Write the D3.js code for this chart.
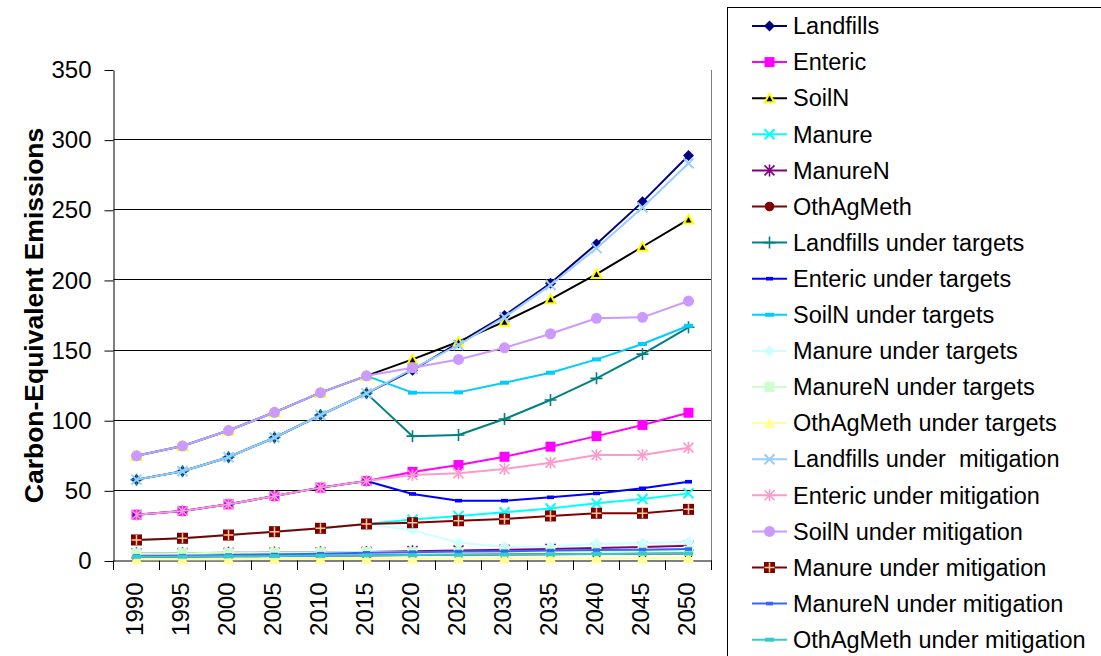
<!DOCTYPE html>
<html><head><meta charset="utf-8">
<script src="https://cdn.jsdelivr.net/npm/d3@7"></script>
<style>
html,body{margin:0;padding:0;background:#fff;}
svg{display:block;font-family:Arial,"Liberation Sans",sans-serif;}
</style></head>
<body>
<svg id="chart" width="1101" height="656"></svg>
<script>
// ---- data ----
const years = ["1990","1995","2000","2005","2010","2015","2020","2025","2030","2035","2040","2045","2050"];
const yTicks = [0,50,100,150,200,250,300,350];

const landfills        = [58, 64, 74, 88, 104, 119.5, 136, 155.5, 175, 198, 226, 256, 289];
const enteric          = [33, 35.6, 40.4, 46.3, 52.3, 57, 63.5, 68.4, 74.3, 81.5, 89, 97, 105.7];
const soilN            = [75, 82, 93, 106, 120, 132, 143.7, 156.3, 170.6, 186.5, 204.5, 224, 243.5];
const manure           = [15, 16.2, 18.5, 20.9, 23.3, 26.4, 29.5, 32.1, 34.7, 37.5, 41.1, 44.2, 48.2];
const manureN          = [5.5, 5.6, 5.8, 6.0, 6.2, 6.5, 7.0, 7.5, 8.0, 8.6, 9.3, 10.0, 10.8];
const othAgMeth        = [3.0, 3.1, 3.3, 3.5, 3.7, 4.0, 4.2, 4.4, 4.6, 4.8, 5.0, 5.2, 5.4];
const landfillsTargets = [58, 64, 74, 88, 104, 119.5, 89, 89.8, 101.2, 114.8, 130.2, 147.5, 166.6];
const entericTargets   = [33, 35.6, 40.4, 46.3, 52.3, 57, 47.8, 43, 43, 45.4, 48.2, 51.8, 56.5];
const soilNTargets     = [75, 82, 93, 106, 120, 132, 120, 120.2, 127.1, 134.2, 143.7, 154.7, 167.7];
const manureTargets    = [15, 16.2, 18.5, 20.9, 23.3, 26.4, 22, 13, 10.2, 10.4, 12.1, 12.6, 13.8];
const manureNTargets   = [5.5, 5.6, 5.8, 6.0, 6.2, 6.5, 6.3, 6.3, 6.5, 6.7, 6.9, 7.1, 7.3];
const othAgMethTargets = [1.2, 1.2, 1.3, 1.4, 1.5, 1.6, 1.7, 1.7, 1.8, 1.9, 2.0, 2.0, 2.1];
const landfillsMitig   = [58, 64, 74, 88, 104, 119.5, 137, 154, 173.8, 196.7, 223, 252, 283.5];
const entericMitig     = [33, 35.6, 40.4, 46.3, 52.3, 57, 61.3, 62.5, 65.6, 70.1, 75.6, 75.6, 80.8];
const soilNMitig       = [75, 82, 93, 106, 120, 132, 137.8, 143.7, 152, 162, 173, 173.7, 185.3];
const manureMitig      = [15, 16.2, 18.5, 20.9, 23.3, 26.4, 27.3, 28.7, 29.9, 32.1, 34, 34, 36.8];
const manureNMitig     = [3.6, 3.8, 4.2, 4.6, 5.2, 5.8, 6.3, 6.7, 7.0, 7.4, 7.8, 8.1, 8.5];
const othAgMethMitig   = [3.0, 3.1, 3.3, 3.5, 3.7, 4.0, 4.2, 4.4, 4.6, 4.8, 5.0, 5.2, 5.4];

const seriesNames = ["Landfills","Enteric","SoilN","Manure","ManureN","OthAgMeth",
  "Landfills under targets","Enteric under targets","SoilN under targets","Manure under targets",
  "ManureN under targets","OthAgMeth under targets","Landfills under  mitigation","Enteric under mitigation",
  "SoilN under mitigation","Manure under mitigation","ManureN under mitigation","OthAgMeth under mitigation"];
const seriesValues = [landfills, enteric, soilN, manure, manureN, othAgMeth,
  landfillsTargets, entericTargets, soilNTargets, manureTargets, manureNTargets, othAgMethTargets,
  landfillsMitig, entericMitig, soilNMitig, manureMitig, manureNMitig, othAgMethMitig];

// ---- styles ----
const seriesColors = ["#000080","#FF00FF","#000000","#00FFFF","#800080","#800000",
  "#008080","#0000FF","#00CCFF","#CCFFFF","#CCFFCC","#FFFF99",
  "#99CCFF","#FF99CC","#CC99FF","#800000","#3366FF","#33CCCC"];
const seriesMarkers = ["diamond","square","triangle","x","asterisk","circle",
  "plus","dashS","dash","diamond","square","triangleP",
  "x","asterisk","circleL","sqplus","dashS","dash"];

(function () {
const svg = d3.select("#chart");
const pLeft = 113.5, pRight = 711.5, pTop = 70, pBottom = 561;
const x = d3.scaleBand().domain(years).range([pLeft, pRight]).padding(0);
const y = d3.scaleLinear().domain([0, 350]).range([pBottom, pTop]);
const cx = d => x(d) + x.bandwidth() / 2;
const crisp = v => Math.round(v) + 0.5;

// gridlines
svg.append("g").selectAll("line").data(yTicks.filter(t => t > 0 && t < 350)).join("line")
  .attr("x1", pLeft).attr("x2", pRight)
  .attr("y1", d => crisp(y(d)) - 1).attr("y2", d => crisp(y(d)) - 1)
  .attr("stroke", "#000").attr("stroke-width", 1);

// right border of plot area
svg.append("line").attr("x1", pRight).attr("x2", pRight).attr("y1", pTop).attr("y2", pBottom)
  .attr("stroke", "#808080").attr("stroke-width", 1);

// y axis
const yAxis = svg.append("g").attr("transform", `translate(${pLeft},0)`)
  .call(d3.axisLeft(y).tickValues(yTicks).tickSize(9).tickPadding(13).tickSizeOuter(0));
yAxis.select(".domain").attr("stroke", "#000");
yAxis.selectAll(".tick line").attr("stroke", "#000");
yAxis.selectAll("text").attr("font-size", 24).attr("fill", "#000")
  .attr("font-family", "Arial, 'Liberation Sans', sans-serif");

// x axis
const xAxis = svg.append("g").attr("transform", `translate(0,${pBottom - 0.5})`)
  .call(d3.axisBottom(x).tickSize(0).tickSizeOuter(0));
xAxis.select(".domain").attr("stroke", "#000");
xAxis.selectAll("text").attr("font-size", 24).attr("fill", "#000")
  .attr("font-family", "Arial, 'Liberation Sans', sans-serif")
  .attr("x", 0).attr("y", 0).attr("dy", "0.35em")
  .attr("text-anchor", "end")
  .attr("transform", "translate(-1.5,22) rotate(-90)");
// boundary ticks
const bounds = d3.range(years.length + 1).map(i => pLeft + i * x.step());
svg.append("g").selectAll("line").data(bounds).join("line")
  .attr("x1", d => d).attr("x2", d => d).attr("y1", pBottom - 0.5).attr("y2", pBottom + 9)
  .attr("stroke", "#000");

// y axis title
svg.append("text").attr("transform", `translate(43,315.5) rotate(-90)`)
  .attr("text-anchor", "middle").attr("font-size", 26.5).attr("font-weight", "bold")
  .text("Carbon-Equivalent Emissions");

// marker drawing
function drawMarker(g, type, color) {
  switch (type) {
    case "diamond":
      g.append("path").attr("d", "M0,-5.5L5.5,0L0,5.5L-5.5,0Z").attr("fill", color); break;
    case "square":
      g.append("rect").attr("x", -5).attr("y", -5).attr("width", 10).attr("height", 10).attr("fill", color); break;
    case "triangle":
      g.append("path").attr("d", "M0,-6.5L6.5,5L-6.5,5Z").attr("fill", "#FFFF00");
      g.append("path").attr("d", "M0,-2.5L3,3L-3,3Z").attr("fill", "#000"); break;
    case "triangleP":
      g.append("path").attr("d", "M0,-6L6,5L-6,5Z").attr("fill", color); break;
    case "x":
      g.append("path").attr("d", "M-5,-5L5,5M5,-5L-5,5").attr("stroke", color).attr("stroke-width", 2).attr("fill", "none"); break;
    case "asterisk":
      g.append("path").attr("d", "M-5,-5L5,5M5,-5L-5,5M0,-6L0,6").attr("stroke", color).attr("stroke-width", 1.6).attr("fill", "none"); break;
    case "circle":
      g.append("circle").attr("r", 4.8).attr("fill", color); break;
    case "circleL":
      g.append("circle").attr("r", 5.5).attr("fill", color); break;
    case "plus":
      g.append("path").attr("d", "M-6,0L6,0M0,-6L0,6").attr("stroke", color).attr("stroke-width", 1.6).attr("fill", "none"); break;
    case "dashS":
      g.append("rect").attr("x", -3.5).attr("y", -1.8).attr("width", 7).attr("height", 3.6).attr("fill", color); break;
    case "dash":
      g.append("rect").attr("x", -4.5).attr("y", -2).attr("width", 9).attr("height", 4).attr("fill", color); break;
    case "sqplus":
      g.append("rect").attr("x", -5.5).attr("y", -5.5).attr("width", 11).attr("height", 11).attr("fill", color);
      g.append("path").attr("d", "M-5,0L5,0M0,-5L0,5").attr("stroke", "#FFCC99").attr("stroke-width", 1.5); break;
  }
}

// series
const line = d3.line().x((d, i) => cx(years[i])).y(d => y(d));
const plot = svg.append("g");
seriesValues.forEach((vals, s) => {
  const g = plot.append("g");
  g.append("path").attr("d", line(vals)).attr("fill", "none")
    .attr("stroke", seriesColors[s]).attr("stroke-width", 2).attr("stroke-linejoin", "round");
  vals.forEach((v, i) => {
    const m = g.append("g").attr("transform", `translate(${cx(years[i])},${y(v)})`);
    drawMarker(m, seriesMarkers[s], seriesColors[s]);
  });
});

// legend
const legend = svg.append("g");
legend.append("rect").attr("x", 727.5).attr("y", 7.5).attr("width", 420).attr("height", 700)
  .attr("fill", "#fff").attr("stroke", "#000").attr("stroke-width", 1);
const rowY = i => 26 + i * 36.1;
seriesNames.forEach((name, i) => {
  const g = legend.append("g").attr("transform", `translate(0,${rowY(i)})`);
  g.append("line").attr("x1", 752).attr("x2", 787).attr("y1", 0).attr("y2", 0)
    .attr("stroke", seriesColors[i]).attr("stroke-width", 2);
  const m = g.append("g").attr("transform", "translate(769.5,0)");
  drawMarker(m, seriesMarkers[i], seriesColors[i]);
  g.append("text").attr("x", 793).attr("y", 0).attr("dy", "0.35em")
    .attr("font-size", 23.5).attr("fill", "#000").style("white-space", "pre").text(name);
});
})();
</script>
</body></html>
